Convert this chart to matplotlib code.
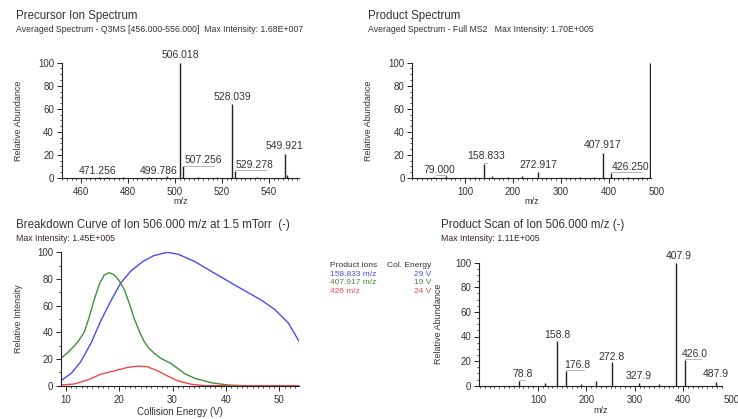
import numpy as np
import matplotlib
matplotlib.use('Agg')
import matplotlib.pyplot as plt
from matplotlib.ticker import MultipleLocator, FixedLocator

plt.rcParams['font.family'] = ['Liberation Sans', 'DejaVu Sans']

# --- data (m/z drawn where the peaks sit on the axis) ---
# Precursor ion spectrum
prec_mz = [467.5, 471.0, 478.0, 489.0, 496.5, 502.3, 503.5, 510.0, 518.0, 524.4, 525.6, 535.0, 546.8, 547.8]
prec_int = [1.0, 0.6, 0.5, 0.6, 1.5, 100, 10, 0.8, 0.5, 64, 6, 0.6, 21, 3]
prec_labels = ['471.256', '499.786', '506.018', '507.256', '528.039', '529.278', '549.921']
prec_label_peak = [467.5, 496.5, 502.3, 503.5, 524.4, 525.6, 546.8]
prec_label_pos = [(467.0, 1.5), (493.0, 1.5), (502.3, 102), (512.0, 11), (524.4, 66), (534.0, 7), (546.8, 23)]

# Product spectrum
prod_mz = [35, 61, 100, 120, 139, 156, 190, 219, 253, 300, 340, 370, 388, 405, 440, 470, 485]
prod_int = [0.6, 2, 0.8, 1.0, 12, 2, 0.8, 1.5, 5, 1.0, 0.8, 1.0, 22, 4, 1.0, 1.2, 100]
prod_labels = ['79.000', '158.833', '272.917', '407.917', '426.250']
prod_label_peak = [61, 139, 253, 388, 405]
prod_label_pos = [(47, 3), (143, 15), (253, 7), (386, 24), (446, 5.5)]

# Breakdown curve
ce_blue = [9.1, 11.0, 12.8, 14.7, 16.6, 18.5, 20.3, 22.2, 24.4, 26.5, 29.0, 31.1, 34.2, 38.0,
           42.3, 46.7, 49.2, 51.7, 53.9]
int_blue = [3.7, 9.2, 18, 31.7, 49, 64, 77, 86, 93, 97.5, 100, 98.5, 93, 84,
            74, 64, 57, 47, 32]
ce_green = [9.1, 10.35, 11.6, 12.5, 13.5, 14.4, 15.3, 16.3, 17.2, 18.1, 19.1, 20.0, 21.0, 21.9,
            22.8, 23.8, 24.7, 25.6, 26.6, 27.8, 29.7, 32.3, 34.2, 37.3, 40.4, 43.5, 53.9]
int_green = [20.5, 24.8, 29.8, 34.2, 40.5, 51.7, 64.2, 76.2, 83, 84.7, 83, 78.7, 71.7, 61.7,
             50.5, 40.5, 33, 28, 24.2, 20.5, 16.7, 9, 5.5, 2.2, 0.5, 0, 0]
ce_red = [9.1, 11.6, 14.1, 16.6, 19.1, 21.6, 23.5, 25.3, 27.2, 29.1, 31.1, 33.6, 36.1, 53.9]
int_red = [0.5, 1.3, 4.3, 8.7, 11.2, 13.7, 14.7, 14.2, 11.2, 7.2, 3.5, 1, 0, 0]
ion_names = ['158.833 m/z', '407.917 m/z', '426 m/z']
col_energy = ['29 V', '19 V', '24 V']

# Product scan
scan_mz = [60, 114, 139, 157, 190, 219, 253, 308, 350, 386, 404, 468]
scan_int = [4, 2, 36, 12, 1, 4, 19, 2, 1.5, 100, 21, 3]
scan_labels = ['78.8', '158.8', '176.8', '272.8', '327.9', '407.9', '426.0', '487.9']
scan_label_peak = [60, 139, 157, 253, 308, 386, 404, 468]
scan_label_pos = [(68, 5.5), (141, 37), (181, 13), (253, 19.5), (308, 3.5), (392, 101), (425, 22), (468, 5.5)]

W, H = 738, 419
fig = plt.figure(figsize=(W / 100, H / 100), dpi=100)
txt = '#333333'
line_c = '#222222'


def place(left, top, right, bottom):
    return fig.add_axes([left / W, 1 - bottom / H, (right - left) / W, (bottom - top) / H])


def style(ax, xmaj, xmin, ymin):
    for s in ['top', 'right']:
        ax.spines[s].set_visible(False)
    for s in ['left', 'bottom']:
        ax.spines[s].set_color(line_c)
        ax.spines[s].set_linewidth(0.8)
    ax.set_ylim(0, 100)
    ax.yaxis.set_major_locator(MultipleLocator(20))
    ax.yaxis.set_minor_locator(MultipleLocator(ymin))
    if isinstance(xmaj, list):
        ax.xaxis.set_major_locator(FixedLocator(xmaj))
    else:
        ax.xaxis.set_major_locator(MultipleLocator(xmaj))
    ax.xaxis.set_minor_locator(MultipleLocator(xmin))
    ax.tick_params(axis='both', which='major', direction='out', length=3.5, width=0.7,
                   color=line_c, labelsize=7, labelcolor=txt, pad=2)
    ax.tick_params(axis='both', which='minor', direction='out', length=1.6, width=0.6, color=line_c)
    ax.tick_params(axis='x', which='major', pad=3)


def ylab(ax, text, xpix):
    ax.set_ylabel(text, fontsize=6.5, color=txt)
    pos = ax.get_position()
    ax.yaxis.set_label_coords((xpix / W - pos.x0) / pos.width, 0.5)


def xlab(ax, text, ypix, size=6.5, weight='normal'):
    ax.set_xlabel(text, fontsize=size, color=txt, fontweight=weight)
    pos = ax.get_position()
    ax.xaxis.set_label_coords(0.5, ((1 - ypix / H) - pos.y0) / pos.height)


def stick(ax, mz, inten, labels, peaks, lpos):
    ax.vlines(mz, 0, inten, color=line_c, linewidth=1.0)
    for lab, pk, (lx, ly) in zip(labels, peaks, lpos):
        h = inten[mz.index(pk)]
        ax.text(lx, ly, lab, fontsize=7.5, color=txt, ha='center', va='bottom')
        if abs(lx - pk) > 3 and ly > h:
            ax.plot([pk, lx + (lx - pk) * 0.55], [h + 0.8, h + 0.8], color='#999999', linewidth=0.5)


def heading(x, y, title, sub, subc=txt):
    fig.text(x / W, 1 - y / H, title, fontsize=8.3, color=txt, va='center')
    fig.text(x / W, 1 - (y + 13) / H, sub, fontsize=6.3, color=subc, va='center')


def edge_label(ax, val):
    ax.annotate(str(val), xy=(val, 0), xycoords=('data', 'axes fraction'), xytext=(0, -6.5),
                textcoords='offset points', ha='center', va='top', fontsize=7, color=txt,
                annotation_clip=False)


# Precursor ion spectrum
ax1 = place(61.7, 62.7, 299, 178)
style(ax1, 20, 2, 5)
ax1.set_xlim(451.8, 552.8)
stick(ax1, prec_mz, prec_int, prec_labels, prec_label_peak, prec_label_pos)
ylab(ax1, 'Relative Abundance', 23)
xlab(ax1, 'm/z', 197)
heading(16, 16, 'Precursor Ion Spectrum',
        'Averaged Spectrum - Q3MS [456.000-556.000]  Max Intensity: 1.68E+007')

# Product spectrum
ax2 = place(412.3, 62.7, 650.5, 178)
style(ax2, [100, 200, 300, 400], 10, 5)
ax2.set_xlim(-10, 487)
stick(ax2, prod_mz, prod_int, prod_labels, prod_label_peak, prod_label_pos)
edge_label(ax2, 500)
ylab(ax2, 'Relative Abundance', 373)
xlab(ax2, 'm/z', 197)
heading(368, 16, 'Product Spectrum', 'Averaged Spectrum - Full MS2   Max Intensity: 1.70E+005')

# Breakdown curve
ax3 = place(61, 252.3, 299, 385.7)
style(ax3, 10, 1, 10)
ax3.set_xlim(9.1, 53.7)
blue, green, red = '#4b4bf0', '#3f8f3f', '#f04848'
ax3.plot(ce_blue, int_blue, color=blue, linewidth=1.0, solid_joinstyle='round')
ax3.plot(ce_green, int_green, color=green, linewidth=1.0, solid_joinstyle='round')
ax3.plot(ce_red, int_red, color=red, linewidth=1.0, solid_joinstyle='round')
ylab(ax3, 'Relative Intensity', 23)
xlab(ax3, 'Collision Energy (V)', 407, size=7)
heading(16, 225, 'Breakdown Curve of Ion 506.000 m/z at 1.5 mTorr  (-)',
        'Max Intensity: 1.45E+005', subc='#3a2626')
fig.text(330 / W, 1 - 265.7 / H, 'Product ions', fontsize=6, color=txt, va='center')
fig.text(431.5 / W, 1 - 265.7 / H, 'Col. Energy', fontsize=6, color=txt, va='center', ha='right')
for i, (nm, ce, c) in enumerate(zip(ion_names, col_energy, [blue, green, red])):
    yy = 274.3 + i * 8.4
    fig.text(330 / W, 1 - yy / H, nm, fontsize=6, color=c, va='center')
    fig.text(431.5 / W, 1 - yy / H, ce, fontsize=6, color=c, va='center', ha='right')

# Product scan
ax4 = place(479, 262.7, 721.7, 385.7)
style(ax4, [100, 200, 300, 400], 10, 5)
ax4.set_xlim(-22, 480)
stick(ax4, scan_mz, scan_int, scan_labels, scan_label_peak, scan_label_pos)
edge_label(ax4, 500)
ylab(ax4, 'Relative Abundance', 443)
xlab(ax4, 'm/z', 406)
heading(440.7, 225, 'Product Scan of Ion 506.000 m/z (-)', 'Max Intensity: 1.11E+005', subc='#3a2626')

fig.savefig('out.png', dpi=100, facecolor='white')
